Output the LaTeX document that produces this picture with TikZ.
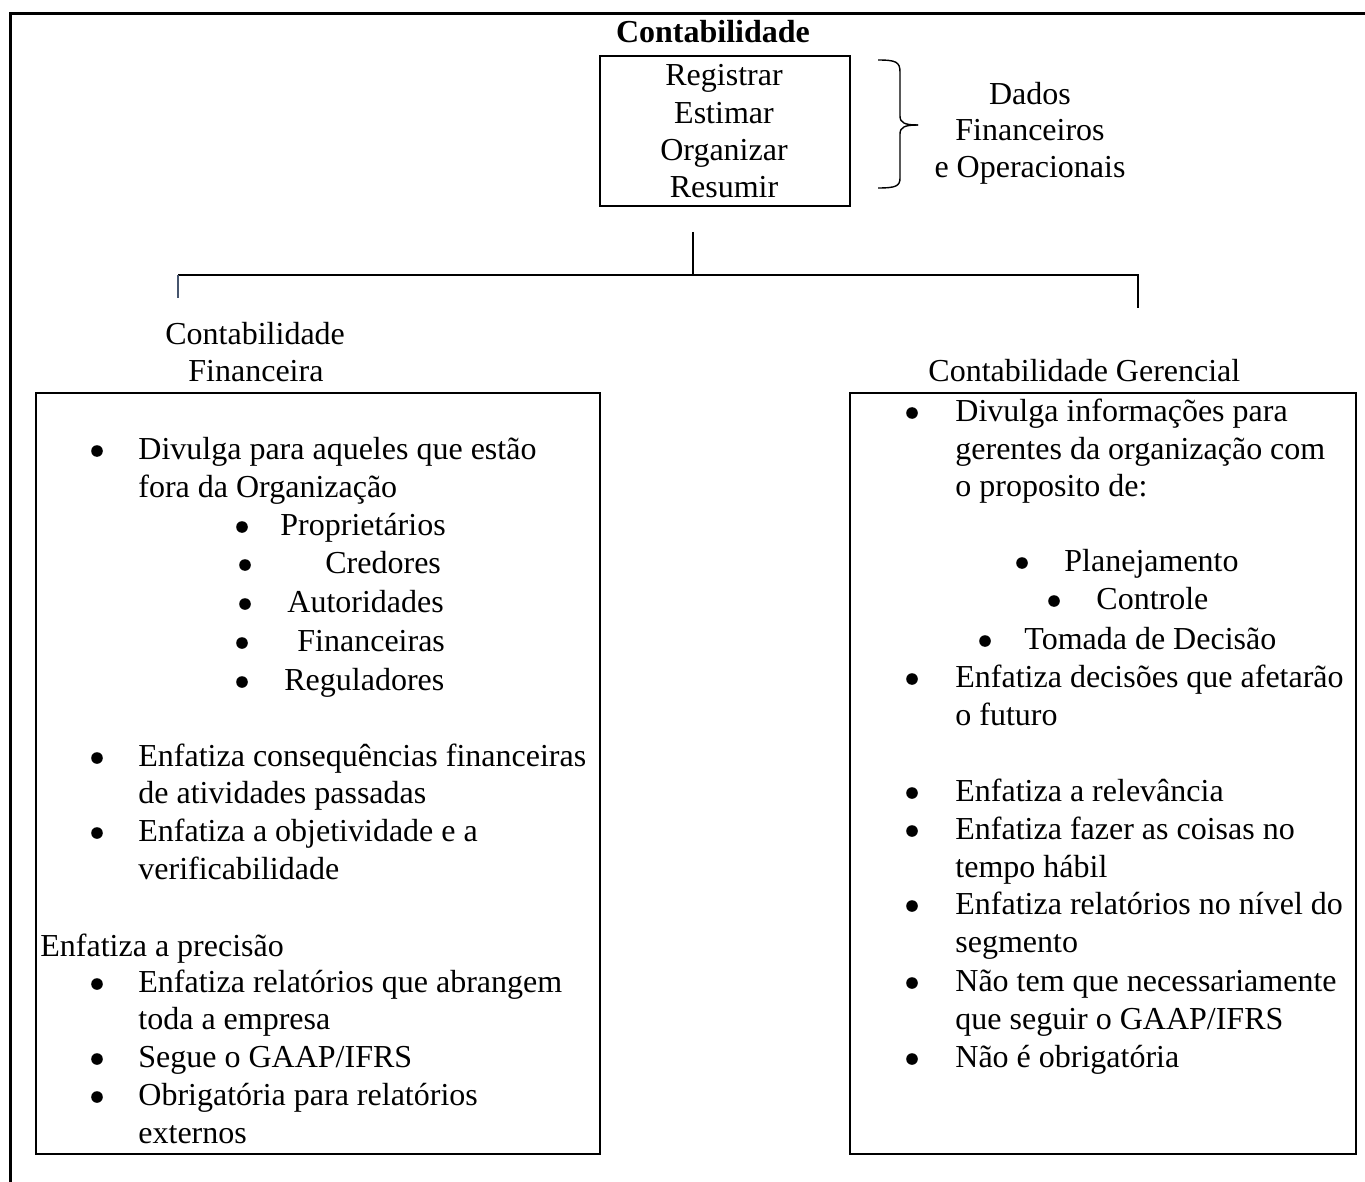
\documentclass[tikz,border=0pt]{standalone}
\usepackage{fontspec}
\setmainfont{Liberation Serif}
\begin{document}
\begin{tikzpicture}[x=0.5pt,y=-0.5pt,
  txt/.style={anchor=base west,inner sep=0pt,font=\fontsize{16}{19}\selectfont},
  ctxt/.style={anchor=base,inner sep=0pt,font=\fontsize{16}{19}\selectfont},
  bul/.style={circle,fill=black,inner sep=0pt,minimum size=5.8pt},
  frame/.style={line width=1.5pt},
  boxst/.style={draw,line width=1.2pt,inner sep=0pt,anchor=north west},
  conn/.style={line width=1.1pt},
  thinconn/.style={line width=0.8pt},
  graydrop/.style={line width=0.8pt,draw={rgb,255:red,70;green,85;blue,110}}]
\useasboundingbox (0,0) rectangle (1365,1182);
% outer frame
\coordinate (fb) at (10,1190);
\coordinate (ftl) at (10,14);
\coordinate (ftr) at (1370,14);
\draw[frame] (fb) -- (ftl) -- (ftr);

% title and top box
\node[ctxt,font=\fontsize{16}{19}\selectfont\bfseries] (title) at (713,43) {Contabilidade};
\node[boxst,minimum width=125pt,minimum height=75pt] (topbox) at (599,55) {};
\node[ctxt] (t1) at (724,86) {Registrar};
\node[ctxt] (t2) at (724,124) {Estimar};
\node[ctxt] (t3) at (724,161) {Organizar};
\node[ctxt] (t4) at (724,198) {Resumir};

% brace
\coordinate (brt) at (878,60);
\coordinate (brm) at (918,125);
\coordinate (brb) at (878,188);
\draw[line width=0.7pt] (brt) .. controls (896,60) and (900,62) .. (900,72) -- (900,116)
  .. controls (900,123) and (905,125) .. (brm);
\draw[line width=0.7pt] (brm) .. controls (905,125) and (900,127) .. (900,134) -- (900,178)
  .. controls (900,186) and (896,188) .. (brb);
\node[ctxt] (d1) at (1030,105) {Dados};
\node[ctxt] (d2) at (1030,141) {Financeiros};
\node[ctxt] (d3) at (1030,178) {e Operacionais};

% connectors
\coordinate (vt) at (693,232);
\coordinate (vj) at (693,275);
\coordinate (hl) at (178,275);
\coordinate (hr) at (1138,275);
\coordinate (dl) at (178,298);
\coordinate (dr) at (1138,308);
\draw[thinconn] (vt) -- (vj);
\draw[conn] (hl) -- (hr) -- (dr);
\draw[graydrop] (hl) -- (dl);

% headings
\node[txt] (lh1) at (165,344) {Contabilidade};
\node[txt] (lh2) at (188,381) {Financeira};
\node[txt] (rh) at (928,381) {Contabilidade Gerencial};

% boxes
\node[boxst,minimum width=282pt,minimum height=380.5pt] (lbox) at (35,392) {};
\node[boxst,minimum width=253pt,minimum height=380.5pt] (rbox) at (849,392) {};

% left box content
\node[bul] (lb1) at (97,451) {};
\node[txt] (l1) at (138,459) {Divulga para aqueles que estão};
\node[txt] (l2) at (138,497) {fora da Organização};
\node[bul] (lb2) at (242,527) {};
\node[txt] (l3) at (280,535) {Proprietários};
\node[bul] (lb3) at (245,565) {};
\node[txt] (l4) at (325,573) {Credores};
\node[bul] (lb4) at (245,604) {};
\node[txt] (l5) at (287,612) {Autoridades};
\node[bul] (lb5) at (242,643) {};
\node[txt] (l6) at (297,651) {Financeiras};
\node[bul] (lb6) at (242,682) {};
\node[txt] (l7) at (284,690) {Reguladores};
\node[bul] (lb7) at (97,758) {};
\node[txt] (l8) at (138,766) {Enfatiza consequências financeiras};
\node[txt] (l9) at (138,803) {de atividades passadas};
\node[bul] (lb8) at (97,833) {};
\node[txt] (l10) at (138,841) {Enfatiza a objetividade e a};
\node[txt] (l11) at (138,879) {verificabilidade};
\node[txt] (l12) at (40,956) {Enfatiza a precisão};
\node[bul] (lb9) at (97,984) {};
\node[txt] (l13) at (138,992) {Enfatiza relatórios que abrangem};
\node[txt] (l14) at (138,1029) {toda a empresa};
\node[bul] (lb10) at (97,1059) {};
\node[txt] (l15) at (138,1067) {Segue o GAAP/IFRS};
\node[bul] (lb11) at (97,1097) {};
\node[txt] (l16) at (138,1105) {Obrigatória para relatórios};
\node[txt] (l17) at (138,1143) {externos};

% right box content
\node[bul] (rb1) at (912,413) {};
\node[txt] (r1) at (955,421) {Divulga informações para};
\node[txt] (r2) at (955,459) {gerentes da organização com};
\node[txt] (r3) at (955,496) {o proposito de:};
\node[bul] (rb2) at (1022,563) {};
\node[txt] (r4) at (1064,571) {Planejamento};
\node[bul] (rb3) at (1054,601) {};
\node[txt] (r5) at (1096,609) {Controle};
\node[bul] (rb4) at (985,641) {};
\node[txt] (r6) at (1024,649) {Tomada de Decisão};
\node[bul] (rb5) at (912,679) {};
\node[txt] (r7) at (955,687) {Enfatiza decisões que afetarão};
\node[txt] (r8) at (955,725) {o futuro};
\node[bul] (rb6) at (912,793) {};
\node[txt] (r9) at (955,801) {Enfatiza a relevância};
\node[bul] (rb7) at (912,831) {};
\node[txt] (r10) at (955,839) {Enfatiza fazer as coisas no};
\node[txt] (r11) at (955,877) {tempo hábil};
\node[bul] (rb8) at (912,906) {};
\node[txt] (r12) at (955,914) {Enfatiza relatórios no nível do};
\node[txt] (r13) at (955,952) {segmento};
\node[bul] (rb9) at (912,983) {};
\node[txt] (r14) at (955,991) {Não tem que necessariamente};
\node[txt] (r15) at (955,1029) {que seguir o GAAP/IFRS};
\node[bul] (rb10) at (912,1059) {};
\node[txt] (r16) at (955,1067) {Não é obrigatória};
\end{tikzpicture}
\end{document}
